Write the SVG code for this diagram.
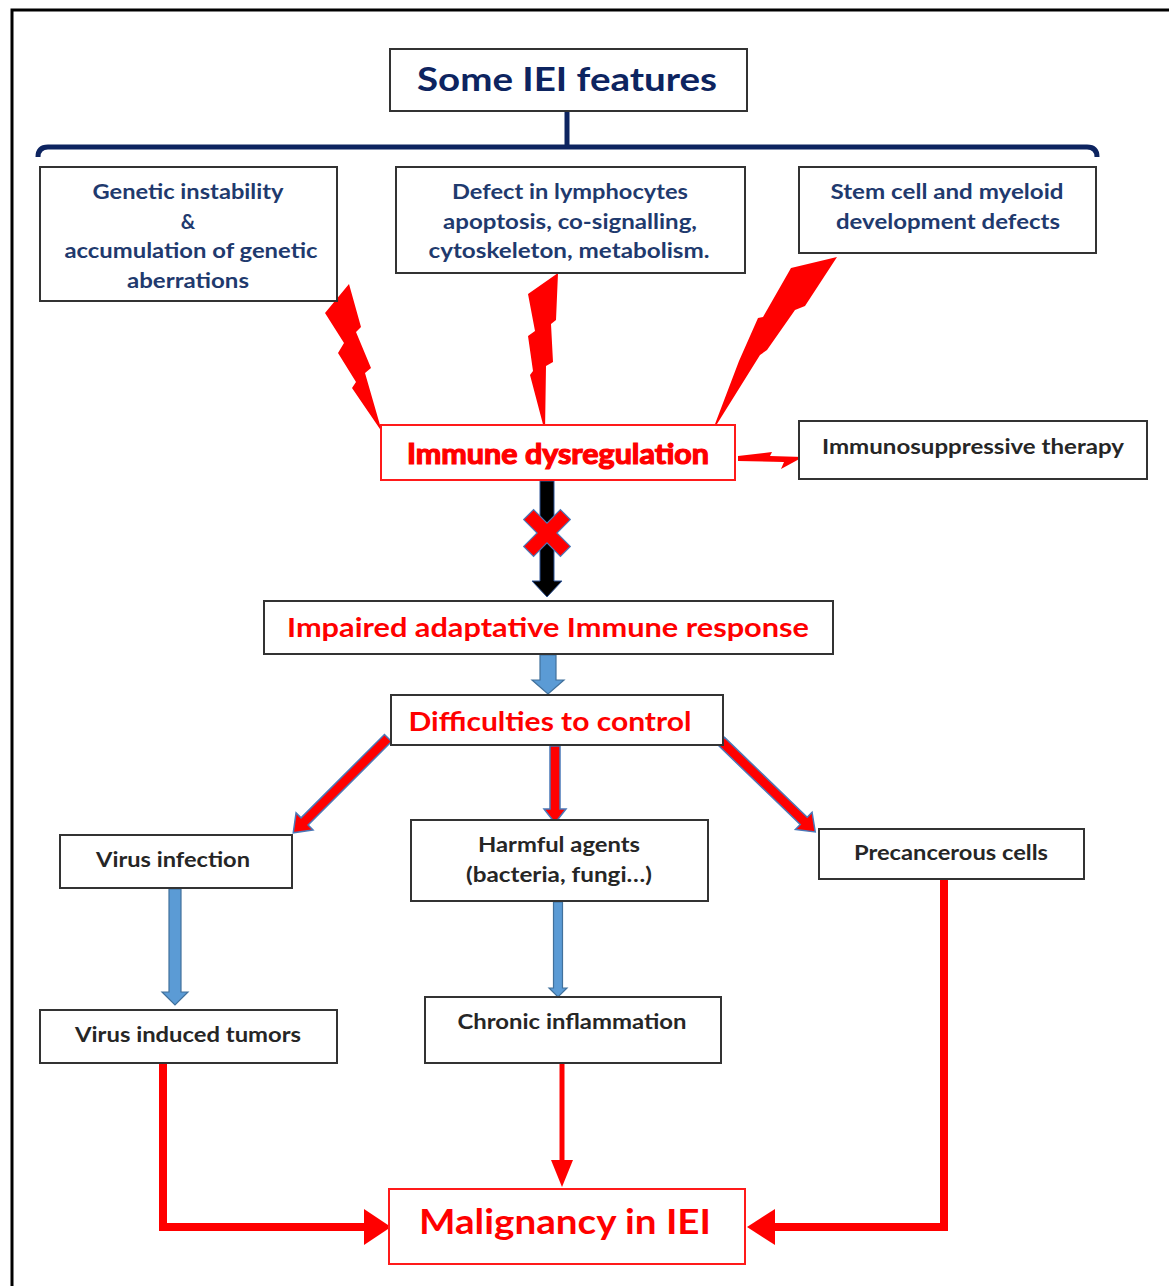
<svg xmlns="http://www.w3.org/2000/svg" width="1169" height="1286" viewBox="0 0 1169 1286">
<defs>
<style>
.box{fill:#fff;stroke:#333;stroke-width:2}
.rbox{fill:#fff;stroke:#ff1a1a;stroke-width:2}
.nv{font-family:Lato,"Liberation Sans",sans-serif;font-weight:bold;font-size:20px;fill:#1f3a6e;text-anchor:middle}
.bk{font-family:Lato,"Liberation Sans",sans-serif;font-weight:bold;font-size:20px;fill:#262626;text-anchor:middle}
.rd{font-family:Lato,"Liberation Sans",sans-serif;font-weight:bold;font-size:27px;fill:#ff0000;text-anchor:middle}
.bolt{fill:#ff0000}
.rarrow{fill:#ff0000;stroke:#4a78b8;stroke-width:1.5}
.barrow{fill:#5b9bd5;stroke:#41719c;stroke-width:1.2}
.rline{fill:none;stroke:#ff0000}
</style>
</defs>
<rect width="1169" height="1286" fill="#fff"/>
<path d="M12,1286 V10 H1169" fill="none" stroke="#000" stroke-width="3"/>

<g id="connectors">
  <path d="M567,111 V147" fill="none" stroke="#0d2460" stroke-width="5"/>
  <path d="M38,157 Q38,147 48,147 H1087 Q1097,147 1097,157" fill="none" stroke="#0d2460" stroke-width="5"/>
  <polygon class="bolt" points="349,284 361,327 356,332 371,368 365,373 382,432 352,388 356,382 338,353 344,343 325,313"/>
  <polygon class="bolt" points="558,273 528,294 535,331 528,336 533,371 530,375 545,432 546,366 553,362 551,324 556,320"/>
  <polygon class="bolt" points="837,257 791,268 763,317 758,318 739,361 712,432 760,355 767,350 795,310 805,306"/>
  <polygon class="bolt" points="738,456 772,452 770,456 803,457 781,469 784,462 738,461"/>
  <g transform="translate(547,481) rotate(90)">
    <polygon points="0,-7 100,-7 100,-15 116,0 100,15 100,7 0,7" fill="#000" stroke="#2f5597" stroke-width="1"/>
  </g>
  <g transform="translate(547,533) rotate(45)">
    <polygon points="-7,-26 7,-26 7,-7 26,-7 26,7 7,7 7,26 -7,26 -7,7 -26,7 -26,-7 -7,-7" fill="#ff0000" stroke="#4a78b8" stroke-width="1.2"/>
  </g>
  <g transform="translate(548,655) rotate(90)">
    <polygon class="barrow" points="0,-8 25,-8 25,-16 39,0 25,16 25,8 0,8"/>
  </g>
  <g transform="translate(388,738) rotate(135)">
    <polygon class="rarrow" points="0,-5 118,-5 118,-12 134,0 118,12 118,5 0,5"/>
  </g>
  <g transform="translate(555,746) rotate(90)">
    <polygon class="rarrow" points="0,-5 63,-5 63,-11 77,0 63,11 63,5 0,5"/>
  </g>
  <g transform="translate(721,741) rotate(44)">
    <polygon class="rarrow" points="0,-5 115,-5 115,-12 131,0 115,12 115,5 0,5"/>
  </g>
  <g transform="translate(175,889) rotate(90)">
    <polygon class="barrow" points="0,-6 103,-6 103,-13 116,0 103,13 103,6 0,6"/>
  </g>
  <g transform="translate(558,902) rotate(90)">
    <polygon class="barrow" points="0,-4.5 86,-4.5 86,-9 95,0 86,9 86,4.5 0,4.5"/>
  </g>
  <path class="rline" d="M163,1063 V1227 H368" stroke-width="8"/>
  <polygon fill="#ff0000" points="364,1209 391,1227 364,1245"/>
  <path class="rline" d="M562,1063 V1162" stroke-width="5"/>
  <polygon fill="#ff0000" points="551,1160 562,1187 573,1160"/>
  <path class="rline" d="M944,879 V1227 H772" stroke-width="8"/>
  <polygon fill="#ff0000" points="775,1209 747,1227 775,1245"/>
</g>

<g id="n-title">
  <rect class="box" x="390" y="49" width="357" height="62"/>
  <text class="nv" x="567" y="91" style="font-size:32px;fill:#0d2460" textLength="300" lengthAdjust="spacingAndGlyphs">Some IEI features</text>
</g>
<g id="n-genetic">
  <rect class="box" x="40" y="167" width="297" height="134"/>
  <text class="nv" x="188" y="199" textLength="191" lengthAdjust="spacingAndGlyphs">Genetic instability</text>
  <text class="nv" x="188" y="229">&amp;</text>
  <text class="nv" x="191" y="258" textLength="253" lengthAdjust="spacingAndGlyphs">accumulation of genetic</text>
  <text class="nv" x="188" y="288" textLength="122" lengthAdjust="spacingAndGlyphs">aberrations</text>
</g>
<g id="n-defect">
  <rect class="box" x="396" y="167" width="349" height="106"/>
  <text class="nv" x="570" y="199" textLength="236" lengthAdjust="spacingAndGlyphs">Defect in lymphocytes</text>
  <text class="nv" x="570" y="229" textLength="254" lengthAdjust="spacingAndGlyphs">apoptosis, co-signalling,</text>
  <text class="nv" x="569" y="258" textLength="281" lengthAdjust="spacingAndGlyphs">cytoskeleton, metabolism.</text>
</g>
<g id="n-stem">
  <rect class="box" x="799" y="167" width="297" height="86"/>
  <text class="nv" x="947" y="199" textLength="233" lengthAdjust="spacingAndGlyphs">Stem cell and myeloid</text>
  <text class="nv" x="948" y="229" textLength="224" lengthAdjust="spacingAndGlyphs">development defects</text>
</g>
<g id="n-dysreg">
  <rect class="rbox" x="381" y="425" width="354" height="55"/>
  <text class="rd" x="558" y="464" style="font-size:28px;stroke:#ff0000;stroke-width:1.2" textLength="302" lengthAdjust="spacingAndGlyphs">Immune dysregulation</text>
</g>
<g id="n-immunosup">
  <rect class="box" x="799" y="421" width="348" height="58"/>
  <text class="bk" x="973" y="454" textLength="302" lengthAdjust="spacingAndGlyphs">Immunosuppressive therapy</text>
</g>
<g id="n-impaired">
  <rect class="box" x="264" y="601" width="569" height="53"/>
  <text class="rd" x="548" y="637" textLength="522" lengthAdjust="spacingAndGlyphs">Impaired adaptative Immune response</text>
</g>
<g id="n-difficulties">
  <rect class="box" x="391" y="695" width="332" height="50"/>
  <text class="rd" x="550" y="731" textLength="283" lengthAdjust="spacingAndGlyphs">Difficulties to control</text>
</g>
<g id="n-virus">
  <rect class="box" x="60" y="835" width="232" height="53"/>
  <text class="bk" x="173" y="867" textLength="154" lengthAdjust="spacingAndGlyphs">Virus infection</text>
</g>
<g id="n-harmful">
  <rect class="box" x="411" y="820" width="297" height="81"/>
  <text class="bk" x="559" y="852" textLength="162" lengthAdjust="spacingAndGlyphs">Harmful agents</text>
  <text class="bk" x="559" y="882" textLength="186" lengthAdjust="spacingAndGlyphs">(bacteria, fungi…)</text>
</g>
<g id="n-precancer">
  <rect class="box" x="819" y="829" width="265" height="50"/>
  <text class="bk" x="951" y="860" textLength="194" lengthAdjust="spacingAndGlyphs">Precancerous cells</text>
</g>
<g id="n-tumors">
  <rect class="box" x="40" y="1010" width="297" height="53"/>
  <text class="bk" x="188" y="1042" textLength="226" lengthAdjust="spacingAndGlyphs">Virus induced tumors</text>
</g>
<g id="n-chronic">
  <rect class="box" x="425" y="997" width="296" height="66"/>
  <text class="bk" x="572" y="1029" textLength="229" lengthAdjust="spacingAndGlyphs">Chronic inflammation</text>
</g>
<g id="n-malignancy">
  <rect class="rbox" x="389" y="1189" width="356" height="75"/>
  <text class="rd" x="565" y="1234" style="font-size:34px" textLength="292" lengthAdjust="spacingAndGlyphs">Malignancy in IEI</text>
</g>
</svg>
